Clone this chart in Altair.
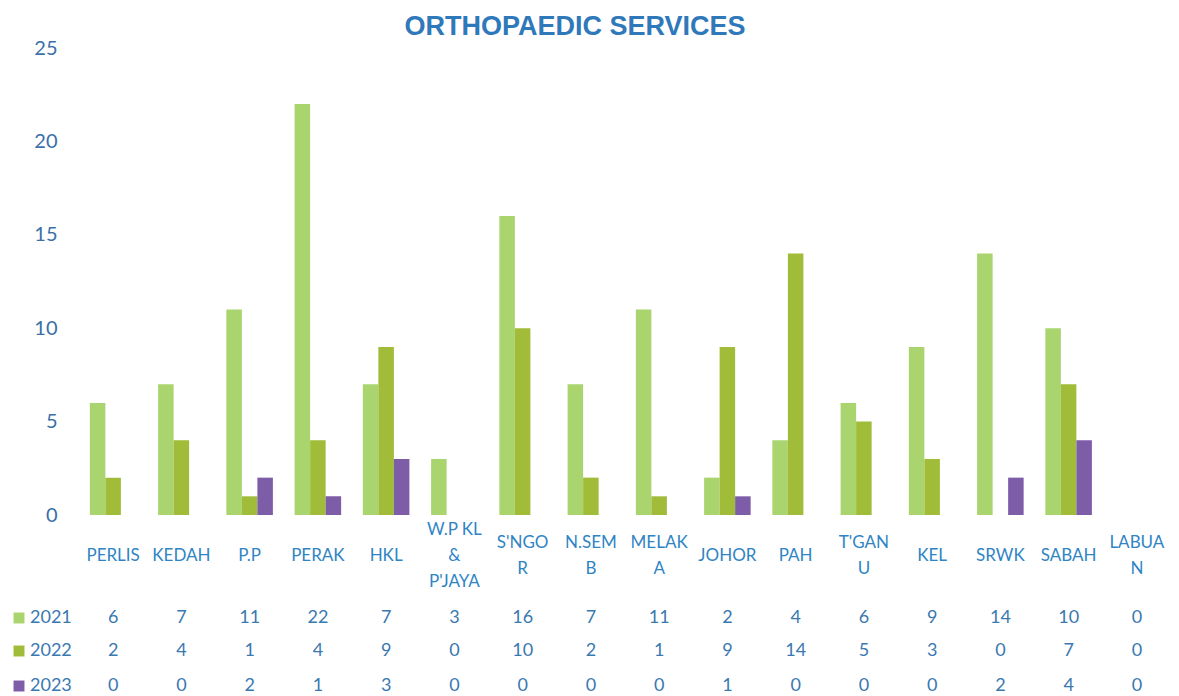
import altair as alt
import pandas as pd

states = ["PERLIS", "KEDAH", "P.P", "PERAK", "HKL", "W.P KL\n&\nP'JAYA", "S'NGO\nR",
          "N.SEM\nB", "MELAK\nA", "JOHOR", "PAH", "T'GAN\nU", "KEL", "SRWK", "SABAH", "LABUA\nN"]
years = ["2021", "2022", "2023"]
v2021 = [6, 7, 11, 22, 7, 3, 16, 7, 11, 2, 4, 6, 9, 14, 10, 0]
v2022 = [2, 4, 1, 4, 9, 0, 10, 2, 1, 9, 14, 5, 3, 0, 7, 0]
v2023 = [0, 0, 2, 1, 3, 0, 0, 0, 0, 1, 0, 0, 0, 2, 4, 0]
colors = ["#AAD46E", "#A0BC38", "#7D5CA8"]
y_ticks = [0, 5, 10, 15, 20, 25]

series = {"2021": v2021, "2022": v2022, "2023": v2023}
rows = []
for yr in years:
    for s, v in zip(states, series[yr]):
        rows.append({"state": s, "year": yr, "value": v})
df = pd.DataFrame(rows)

label_color = "#2F84C4"
value_color = "#3A78B0"
FONT = "Lato"

xenc = alt.X("state:N", sort=states, axis=None,
             scale=alt.Scale(paddingInner=0, paddingOuter=0))

bars = alt.Chart(df).mark_bar().encode(
    x=xenc,
    xOffset=alt.XOffset("year:N", sort=years,
                        scale=alt.Scale(paddingInner=0, paddingOuter=0.7)),
    y=alt.Y("value:Q", scale=alt.Scale(domain=[0, 25], nice=False),
            axis=alt.Axis(values=y_ticks, title=None, domain=False, ticks=False,
                          grid=False, labelFontSize=20, labelColor="#3A6FA8",
                          labelFont=FONT, labelPadding=22)),
    color=alt.Color("year:N", sort=years,
                    scale=alt.Scale(domain=years, range=colors), legend=None),
)

title = alt.Chart(pd.DataFrame({"t": ["ORTHOPAEDIC SERVICES"]})).mark_text(
    font="Liberation Sans", fontSize=27, fontWeight="bold", color="#2F78BA",
    align="center", baseline="middle"
).encode(x=alt.value(496), y=alt.value(-21), text="t:N")

layers = [bars, title]

# category labels, grouped by number of lines so each block is centred
LH = 26
cat_df = pd.DataFrame({"state": states})
cat_df["n"] = cat_df["state"].str.count("\n") + 1
for n in sorted(cat_df["n"].unique()):
    sub = cat_df[cat_df["n"] == n]
    layers.append(alt.Chart(sub).mark_text(
        font=FONT, fontSize=17, color=label_color, lineBreak="\n",
        baseline="middle", align="center", lineHeight=LH
    ).encode(x=xenc, y=alt.value(508 - (n - 1) * LH / 2), text="state:N"))

row_y = [570, 603, 638]
for yr, c, ry in zip(years, colors, row_y):
    sub = df[df["year"] == yr]
    vals = alt.Chart(sub).mark_text(
        font=FONT, fontSize=18, color=value_color, baseline="middle", align="center"
    ).encode(x=xenc, y=alt.value(ry), text="value:Q")
    one = pd.DataFrame({"year": [yr]})
    sq = alt.Chart(one).mark_square(size=120, color=c, opacity=1).encode(
        x=alt.value(-60), y=alt.value(ry))
    lab = alt.Chart(one).mark_text(
        font=FONT, fontSize=18, color=value_color, baseline="middle", align="left"
    ).encode(x=alt.value(-49), y=alt.value(ry), text="year:N")
    layers += [vals, sq, lab]

chart = alt.layer(*layers).properties(
    width=1092, height=467,
    autosize=alt.AutoSizeParams(type="none"),
    padding={"left": 71, "top": 40, "right": 0, "bottom": 181},
).configure_view(stroke=None)

chart.save("out.html", embed_options={"renderer": "svg", "actions": False})
